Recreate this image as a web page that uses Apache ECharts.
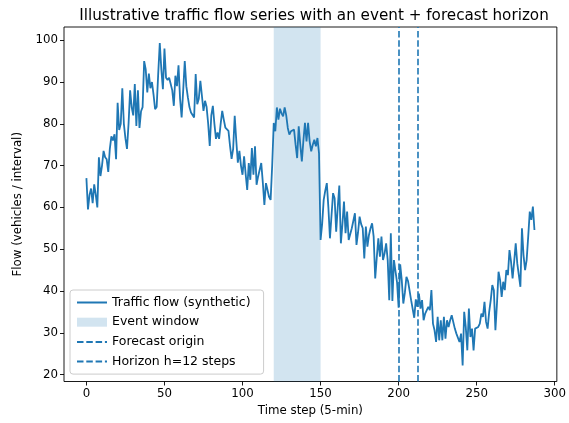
<!DOCTYPE html>
<html>
<head>
<meta charset="utf-8">
<script src="https://cdn.jsdelivr.net/npm/echarts@6/dist/echarts.min.js"></script>
<style>html,body{margin:0;padding:0;background:#fff}#c{width:569px;height:423px}</style>
</head>
<body>
<div id="c"></div>
<script>
const flow = [
67,59.5,63,64.5,61,65.5,63,60,72,67.5,
70,73.5,72,71.5,68.5,74,77,76,77.5,71.5,
85,78.5,80,88.5,80,76.5,74,80,88,84,
82,89.5,79.5,88,79,83,84,95,93,87.5,
92,88.5,90,87,83.5,84,92,99.3,93,88.3,
98,91,90.5,91,89.5,88,84.3,91.5,89,94,
86,81.5,88,95,89,86.3,84,82.7,83.1,81.5,
91.9,84.7,86,90.3,89.9,83.1,85.5,84,80,74.7,
82,84.3,80,76.4,77.9,76.4,80,83.1,81,79.1,
78.8,78.3,74.7,71.6,74,81.9,76,70.7,73.5,70,
67.8,72.2,68,64.2,70.6,66.6,74.2,67.8,74.6,65.4,
67.4,69,70.6,66,60.6,65.8,64.2,62.5,61.8,70,
80.2,78.2,83.9,81,83.6,82.5,81.8,83.9,82,79,
77.4,78.2,78,78.6,75,71.8,79.4,75,71,76,
80.2,75.8,80.2,75.8,73.4,75,76.2,74.6,76.6,73,
52.2,56,61.8,64,65.8,60,52.6,58,63.4,62.2,
54.2,60,65.2,51.4,56,61.4,53.8,59,52.2,52.6,
55,54.6,58.6,51,54,57.8,56,55,47.8,55.4,
50.6,53.4,55,56.2,53,43,48,52.6,48.2,53,
47.4,49,51.4,47.4,37.8,53.8,37.6,47.4,47.8,42,
36,46.4,42.6,37,39.6,43.4,42.4,42,37.8,37.4,
33.6,38,36.2,39.4,35.8,37.8,33,34.6,34.2,36.2,
35.4,40.2,32.2,30.6,27.8,33.8,28.2,33,28.2,33.8,
28.6,33,31.4,33,34.2,34.6,31,29.8,29.8,27.8,
29.8,22.2,35,31.4,25.8,35.8,29,31,25.8,31,
31.4,31.4,32.2,34.6,33.8,37.4,32.6,31,35,37.8,
41.4,40.2,30.6,37,44.6,42.6,38.6,42.2,40.2,45,
43.8,49.8,47,43,47,51.4,46.6,47,41,55,
48.6,45,47.4,53,59,57,60.2,54.6
];
const eventWindow = [120, 150];
const forecastOrigin = 200;
const horizonEnd = 212;
const xTicks = [0, 50, 100, 150, 200, 250, 300];
const yTicks = [20, 30, 40, 50, 60, 70, 80, 90, 100];

const C = '#1f77b4';
const FS = 11.8;
const chart = echarts.init(document.getElementById('c'), null, {renderer: 'canvas'});
const flowData = flow.map((v, i) => [i, v]);
const fmin = Math.min(...flow), fmax = Math.max(...flow);
const xm = (flow.length - 1) * 0.05, ym = (fmax - fmin) * 0.05;
const dash = [6.5, 2.8];
const hideSym = {color: 'rgba(0,0,0,0)', borderWidth: 0, opacity: 0};

chart.setOption({
  animation: false,
  backgroundColor: '#fff',
  textStyle: {fontFamily: 'DejaVu Sans'},
  title: {
    text: 'Illustrative traffic flow series with an event + forecast horizon',
    left: 309, top: 4, textAlign: 'center',
    textStyle: {fontFamily: 'DejaVu Sans', fontSize: 15.2, fontWeight: 'normal', color: '#000'}
  },
  grid: {left: 64, right: 6, top: 27, bottom: 41.5, show: true, borderColor: '#000', borderWidth: 0.9},
  legend: {
    orient: 'vertical', left: 70, top: 290,
    data: [
      {name: 'Traffic flow (synthetic)', itemStyle: hideSym},
      {name: 'Event window', icon: 'rect'},
      {name: 'Forecast origin', itemStyle: hideSym},
      {name: 'Horizon h=12 steps', itemStyle: hideSym}
    ],
    itemWidth: 30, itemHeight: 9, itemGap: 6.7,
    padding: [6, 13, 6, 6],
    backgroundColor: 'rgba(255,255,255,0.8)', borderColor: '#cccccc', borderWidth: 1, borderRadius: 3,
    textStyle: {fontFamily: 'DejaVu Sans', fontSize: 12.5, color: '#000'}
  },
  xAxis: {
    type: 'value', min: -xm, max: flow.length - 1 + xm,
    name: 'Time step (5-min)', nameLocation: 'middle', nameGap: 23,
    nameTextStyle: {fontFamily: 'DejaVu Sans', fontSize: FS, color: '#000'},
    axisLine: {show: false, onZero: false},
    splitLine: {show: false},
    axisTick: {show: true, length: 4, lineStyle: {color: '#000', width: 0.9}, customValues: xTicks},
    axisLabel: {customValues: xTicks, fontFamily: 'DejaVu Sans', fontSize: FS, color: '#000', margin: 6}
  },
  yAxis: {
    type: 'value', min: fmin - ym, max: fmax + ym,
    name: 'Flow (vehicles / interval)', nameLocation: 'middle', nameGap: 40,
    nameTextStyle: {fontFamily: 'DejaVu Sans', fontSize: FS, color: '#000'},
    axisLine: {show: false, onZero: false},
    splitLine: {show: false},
    axisTick: {show: true, length: 4, lineStyle: {color: '#000', width: 0.9}, customValues: yTicks},
    axisLabel: {customValues: yTicks, fontFamily: 'DejaVu Sans', fontSize: FS, color: '#000', margin: 6}
  },
  series: [
    {
      name: 'Event window', type: 'line', data: [], symbol: 'none',
      itemStyle: {color: 'rgba(31,119,180,0.2)'},
      lineStyle: {width: 0},
      markArea: {silent: true, itemStyle: {color: 'rgba(31,119,180,0.2)'},
        data: [[{xAxis: eventWindow[0]}, {xAxis: eventWindow[1]}]]}
    },
    {
      name: 'Traffic flow (synthetic)', type: 'line', data: flowData, symbol: 'none', showSymbol: false,
      itemStyle: {color: C}, lineStyle: {color: C, width: 1.8}, z: 3
    },
    {
      name: 'Forecast origin', type: 'line', data: [], symbol: 'none',
      itemStyle: {color: C}, lineStyle: {color: C, width: 1.6, type: dash},
      markLine: {silent: true, symbol: 'none', label: {show: false},
        lineStyle: {color: C, width: 1.6, type: dash}, data: [{xAxis: forecastOrigin}]}
    },
    {
      name: 'Horizon h=12 steps', type: 'line', data: [], symbol: 'none',
      itemStyle: {color: C}, lineStyle: {color: C, width: 1.6, type: dash},
      markLine: {silent: true, symbol: 'none', label: {show: false},
        lineStyle: {color: C, width: 1.6, type: dash}, data: [{xAxis: horizonEnd}]}
    }
  ]
});
</script>
</body>
</html>
